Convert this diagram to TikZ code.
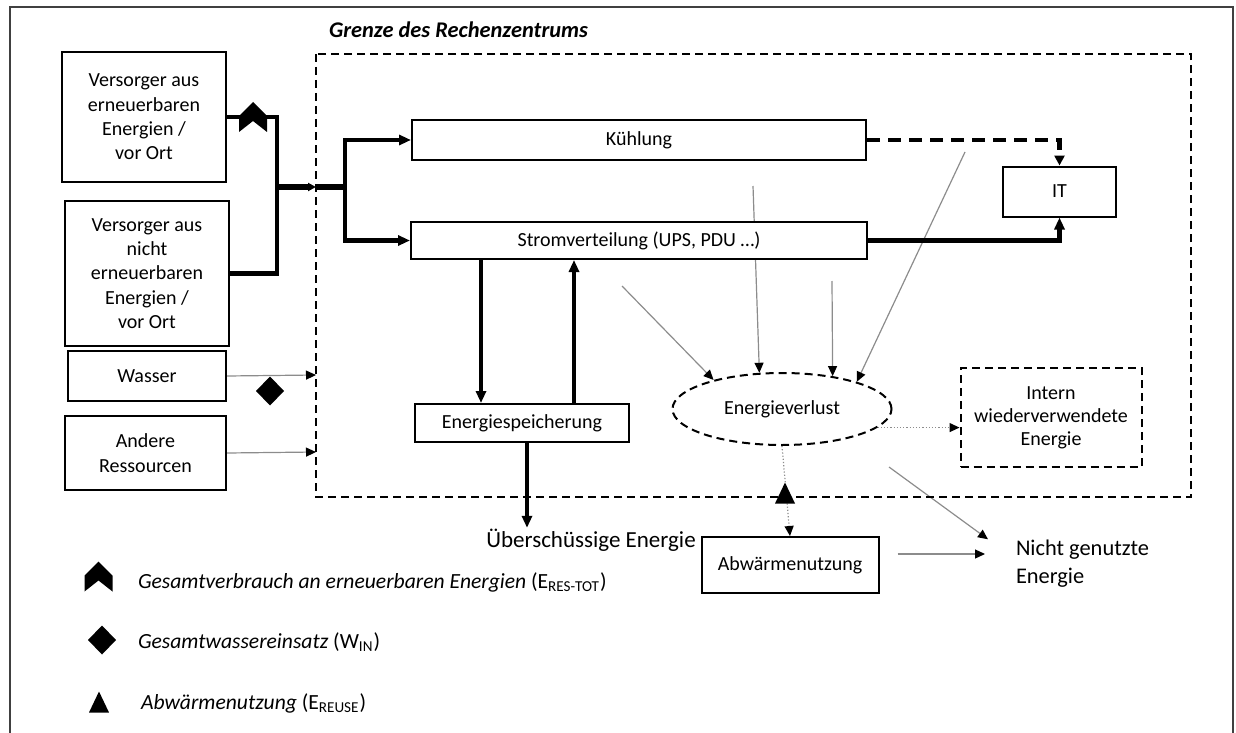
\documentclass[tikz,border=0pt]{standalone}
\usepackage{fontspec}
\setmainfont{Carlito}
\usepackage{tikz}
\usetikzlibrary{
  arrows.meta,
  positioning,
  calc,
  shapes.geometric,
  backgrounds
}
\tikzset{
  block/.style=
  {
    draw=black,
    line width=1pt,
    fill=white,
    align=center,
    inner sep=0pt,
    font=\fontsize{10}{12.2}\selectfont
  },
  lossring/.style=
  {
    block,
    ellipse,
    dash pattern=on 4pt off 2.5pt
  },
  boundary/.style=
  {
    draw=black,
    line width=1pt,
    dash pattern=on 4pt off 2.5pt
  },
  frame/.style=
  {
    draw=black!75,
    line width=0.8pt
  },
  supply/.style=
  {
    draw=black,
    line width=2.2pt
  },
  feed/.style=
  {
    supply,
    -{Triangle[length=6pt,width=5pt]}
  },
  merged/.style=
  {
    draw=black,
    line width=3.4pt
  },
  coolant/.style=
  {
    draw=black,
    line width=2.2pt,
    dash pattern=on 6.5pt off 4pt,
    -{Triangle[length=5pt,width=5pt]}
  },
  leak/.style=
  {
    draw=black!45,
    line width=0.6pt,
    -{Triangle[length=5pt,width=4.5pt,fill=black,color=black]}
  },
  reuse/.style=
  {
    leak,
    densely dotted
  },
  heading/.style=
  {
    inner sep=0pt,
    font=\bfseries\itshape\fontsize{11.2}{13}\selectfont
  },
  legendtext/.style=
  {
    anchor=west,
    inner sep=0pt,
    font=\fontsize{10.8}{12}\selectfont
  },
  chevron/.pic=
  {
    \fill (0,-15) -- (14,-1) -- (14,15) -- (0,4) -- (-14,15) -- (-14,-1) -- cycle;
  },
  diamondmark/.pic=
  {
    \fill (0,-14.5) -- (14,0) -- (0,14.5) -- (-14,0) -- cycle;
  },
  trianglemark/.pic=
  {
    \fill (0,-10.5) -- (10,10.5) -- (-10,10.5) -- cycle;
  }
}
\begin{document}
\begin{tikzpicture}[x=0.5pt, y=-0.5pt, line width=1pt]
  \useasboundingbox (0,0) rectangle (1236,733);
  \draw[frame] (10,733) -- (10,7) -- (1233,7) -- (1233,733);
  \draw[boundary] (316,54) rectangle (1191,497);
  \node[heading, anchor=west] (title) at (328,30) {Grenze des Rechenzentrums};

  % sources outside
  \node[block, minimum width=82pt, minimum height=65pt] (ren) at (144,117) {Versorger aus\\erneuerbaren\\Energien /\\vor Ort};
  \node[block, minimum width=82pt, minimum height=72.5pt] (nonren) at (147,273.5) {Versorger aus\\nicht\\erneuerbaren\\Energien /\\vor Ort};
  \node[block, minimum width=79pt, minimum height=25pt] (wasser) at (147,376) {Wasser};
  \node[block, minimum width=80.5pt, minimum height=37pt] (andere) at (145.5,453) {Andere\\Ressourcen};

  % data centre
  \node[block, minimum width=227pt, minimum height=19.5pt] (kuehl) at (639,140) {Kühlung};
  \node[block, minimum width=228pt, minimum height=18.5pt] (strom) at (639,240.5) {Stromverteilung (UPS, PDU …)};
  \node[block, minimum width=56.5pt, minimum height=25pt] (it) at (1059.5,191.5) {IT};
  \node[block, minimum width=107pt, minimum height=19pt] (speicher) at (522,423) {Energiespeicherung};
  \node[lossring, minimum width=109.5pt, minimum height=36pt] (verlust) at (782,409) {Energieverlust};
  \node[block, boundary, minimum width=90.5pt, minimum height=49.5pt, font=\fontsize{10}{11.5}\selectfont] (intern) at (1051,417.5) {Intern\\wiederverwendete\\Energie};

  % outputs
  \node[block, minimum width=88.5pt, minimum height=28pt] (abw) at (790,565) {Abwärmenutzung};
  \node[inner sep=0pt, font=\fontsize{11.5}{14}\selectfont] (ueber) at (591,540) {Überschüssige Energie};
  \node[anchor=west, align=left, inner sep=0pt, font=\fontsize{11.2}{14}\selectfont] (nicht) at (1015,564) {Nicht genutzte\\Energie};

  \coordinate (merge) at (277,187);
  \coordinate (entry) at (316,187);
  \coordinate (split) at (345,187);
  \coordinate (inwasser) at (316,375);
  \coordinate (inandere) at (316,452);
  \coordinate (charge) at (481,0);
  \coordinate (discharge) at (574,0);
  \coordinate (surplus) at (527,0);
  \coordinate (l1) at (622,286);
  \coordinate (l2) at (753,186);
  \coordinate (l3) at (832,281);
  \coordinate (l4) at (965,152);
  \coordinate (l5) at (889,467);
  \coordinate (abwout) at ([yshift=5.5pt]abw.east);

  % energy supply
  \draw[supply] (ren.east) -| (nonren.east -| merge) -- (nonren.east);
  \draw[merged, -{Triangle[length=4pt,width=4pt]}] (merge) -- (entry);
  \draw[merged] (entry) -- (split);
  \draw[feed] (split) |- (kuehl.west);
  \draw[feed] (split) |- (strom.west);
  \draw[coolant] (kuehl.east) -| (it.north);
  \draw[feed] (strom.east) -| (it.south);
  \draw[feed] (strom.south -| charge) -- (speicher.north -| charge);
  \draw[feed] (speicher.north -| discharge) -- (strom.south -| discharge);
  \draw[feed] (speicher.south -| surplus) -- (ueber.north -| surplus);

  % losses
  \begin{scope}[on background layer]
    \draw[leak] (wasser.east) -- (inwasser);
    \draw[leak] (andere.east) -- (inandere);
    \draw[leak] (l1) -- (verlust.157);
    \draw[leak] (l2) -- (verlust.122);
    \draw[leak] (l3) -- (verlust.33);
    \draw[leak] (l4) -- (verlust.20);
    \draw[leak] (l5) -- ([xshift=-13.5pt]nicht.north west);
    \draw[leak, shorten <=9pt, shorten >=15pt] (abwout) -- (abwout -| nicht.west);
    \draw[reuse] (verlust.-11) -- (intern.west |- verlust.-11);
    \draw[reuse] (verlust.south) -- (abw.north);
  \end{scope}

  % markers
  \pic (renmark) at (253,117) {chevron};
  \pic (watermark) at (270,391) {diamondmark};
  \pic (reusemark) at (785,493) {trianglemark};

  % legend
  \pic (legren) at (98.5,576.5) {chevron};
  \pic (legwater) at (102,640) {diamondmark};
  \pic (legreuse) at (99,702) {trianglemark};
  \node[legendtext] (txtren) at (137,582) {\textit{Gesamtverbrauch an erneuerbaren Energien} (E\textsubscript{RES-TOT})};
  \node[legendtext] (txtwater) at (137,642) {\textit{Gesamtwassereinsatz} (W\textsubscript{IN})};
  \node[legendtext] (txtreuse) at (140,703) {\textit{Abwärmenutzung} (E\textsubscript{REUSE})};
\end{tikzpicture}
\end{document}
